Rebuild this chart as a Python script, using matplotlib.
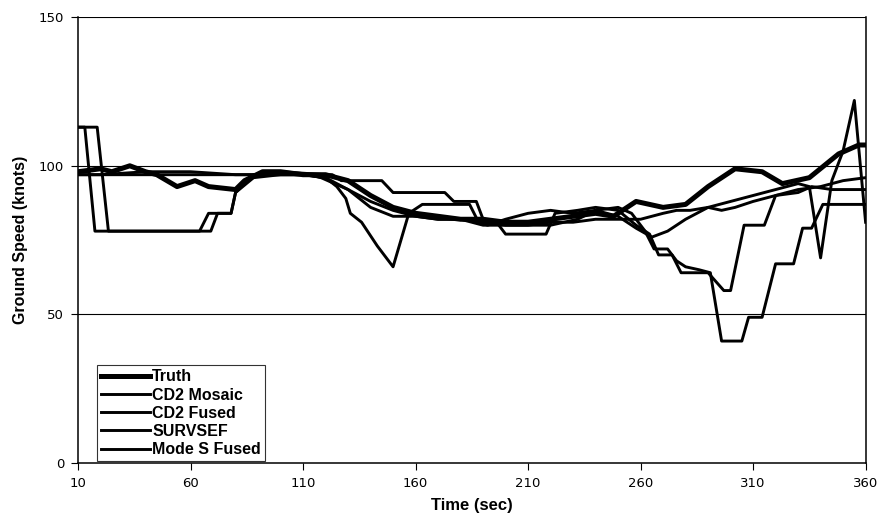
import matplotlib
matplotlib.use('Agg')
import matplotlib.pyplot as plt

plt.rcParams['font.family'] = ['Liberation Sans', 'DejaVu Sans']

# Truth (thick line)
truth_t = [10, 20, 25, 33, 40, 45, 54, 62, 68, 80, 84, 92, 100, 110, 120, 130, 140, 150, 160, 170, 180, 190,
           200, 210, 220, 230, 240, 248, 258, 270, 280, 290, 302, 314, 323, 335, 348, 357, 360]
truth_v = [98, 99, 98, 100, 98, 97, 93, 95, 93, 92, 95, 98, 98, 97, 97, 95, 90, 86, 84, 83, 82, 82,
           81, 81, 82, 83, 84, 83, 88, 86, 87, 93, 99, 98, 94, 96, 104, 107, 107]

# CD2 Mosaic
mosaic_t = [10, 13, 17.5, 64, 68, 78, 80, 88, 100, 112, 118, 130, 140, 150, 160, 170, 180, 190, 200, 210,
            220, 232, 240, 250, 256, 262, 266, 272, 276, 280, 286, 291, 296, 305, 308, 314, 320, 328, 332,
            336, 341, 360]
mosaic_v = [113, 113, 78, 78, 84, 84, 91, 96, 97, 97, 96, 92, 86, 83, 83, 82, 82, 80, 80, 80,
            80, 82, 85, 86, 84, 78, 72, 72, 68, 66, 65, 64, 41, 41, 49, 49, 67, 67, 79,
            79, 87, 87]

# CD2 Fused
fused_t = [10, 30, 50, 70, 90, 100, 110, 120, 125, 129, 131, 136, 143, 150, 157, 163, 174, 184, 188, 192,
           200, 210, 220, 230, 240, 250, 258, 265, 272, 280, 290, 300, 310, 320, 330, 335, 340, 345, 350,
           355, 360]
fused_v = [97, 97, 97, 97, 97, 97, 97, 96, 93, 89, 84, 81, 73, 66, 84, 87, 87, 87, 81, 80,
           82, 84, 85, 84, 85, 83, 79, 76, 78, 82, 86, 88, 90, 92, 94, 93, 69, 95, 105,
           122, 81]

# SURVSEF
survsef_t = [10, 20, 40, 60, 80, 90, 100, 110, 120, 130, 140, 150, 160, 170, 180, 190, 200, 210, 220, 230,
             240, 250, 260, 270, 276, 282, 290, 296, 302, 310, 320, 330, 340, 350, 360]
survsef_v = [97, 97, 98, 98, 97, 97, 97, 97, 96, 92, 88, 85, 83, 82, 82, 81, 80, 80, 81, 81,
             82, 82, 82, 84, 85, 85, 86, 85, 86, 88, 90, 92, 93, 95, 96]

# Mode S Fused
modes_t = [10, 18.5, 23.5, 69, 72, 78, 80, 88, 100, 120, 123, 127, 145, 150, 173, 177, 187, 190, 196, 200,
           218, 222, 232, 240, 250, 258, 264, 268, 274, 278, 290, 297, 300, 306, 315, 320, 330, 336, 345,
           360]
modes_v = [113, 113, 78, 78, 84, 84, 91, 97, 98, 97, 97, 95, 95, 91, 91, 88, 88, 82, 81, 77,
           77, 84, 85, 86, 85, 80, 77, 70, 70, 64, 64, 58, 58, 80, 80, 90, 91, 93, 92,
           92]

x_ticks = [10, 60, 110, 160, 210, 260, 310, 360]
y_ticks = [0, 50, 100, 150]

fig = plt.figure(figsize=(8.77, 5.23), dpi=100)
ax = fig.add_axes([0.089, 0.115, 0.898, 0.852])

for y in [50, 100, 150]:
    ax.axhline(y, color='black', lw=0.8, zorder=1)

ax.plot(truth_t, truth_v, color='black', lw=3.6, label='Truth', zorder=3)
ax.plot(mosaic_t, mosaic_v, color='black', lw=2.1, label='CD2 Mosaic', zorder=2)
ax.plot(fused_t, fused_v, color='black', lw=2.1, label='CD2 Fused', zorder=2)
ax.plot(survsef_t, survsef_v, color='black', lw=2.1, label='SURVSEF', zorder=2)
ax.plot(modes_t, modes_v, color='black', lw=2.1, label='Mode S Fused', zorder=2)

ax.set_xlim(10, 360)
ax.set_ylim(0, 150)
ax.set_xticks(x_ticks)
ax.set_yticks(y_ticks)
ax.tick_params(axis='both', direction='out', length=5, width=0.8, labelsize=9.5, pad=5)
for lbl in ax.get_xticklabels() + ax.get_yticklabels():
    lbl.set_family('DejaVu Sans')

for s in ['left', 'bottom', 'right']:
    ax.spines[s].set_linewidth(1.1)
ax.spines['top'].set_visible(False)

ax.set_xlabel('Time (sec)', fontsize=12, fontweight='bold', labelpad=6)
ax.set_ylabel('Ground Speed (knots)', fontsize=11.5, fontweight='bold', labelpad=8)

leg = ax.legend(loc='lower left', bbox_to_anchor=(0.022, 0.0), fontsize=11.5, frameon=True, fancybox=False,
                edgecolor='black', handlelength=3.1, handletextpad=0.1, borderpad=0.25, labelspacing=0.2,
                borderaxespad=0.1)
leg.get_frame().set_linewidth(0.8)
for t in leg.get_texts():
    t.set_fontweight('bold')

fig.savefig('out.png', dpi=100, facecolor='white')
